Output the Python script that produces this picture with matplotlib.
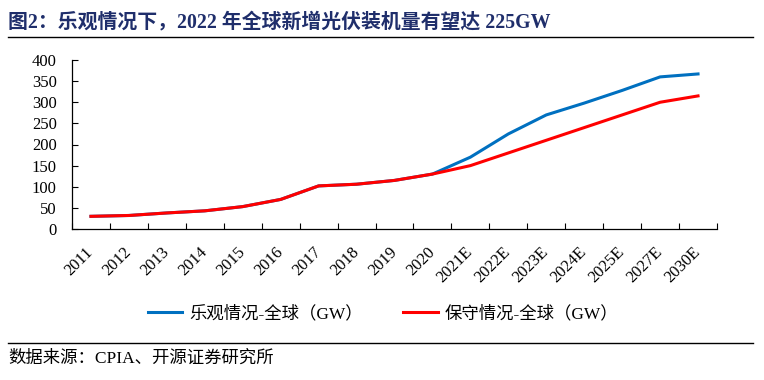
import numpy as np
import matplotlib
matplotlib.use("Agg")
import matplotlib.pyplot as plt

plt.rcParams['font.family'] = ['Liberation Serif', 'Noto Sans CJK SC']

years = ['2011', '2012', '2013', '2014', '2015', '2016', '2017', '2018', '2019',
         '2020', '2021E', '2022E', '2023E', '2024E', '2025E', '2027E', '2030E']
optimistic = [30, 32, 38, 43, 53, 70, 102, 106, 115, 130, 170, 225, 270, 298, 328, 360, 367]
conservative = [30, 32, 38, 43, 53, 70, 102, 106, 115, 130, 150, 180, 210, 240, 270, 300, 315]

title = '图2：乐观情况下，2022 年全球新增光伏装机量有望达 225GW'
source = '数据来源：CPIA、开源证券研究所'

fig = plt.figure(figsize=(7.64, 3.80), dpi=100)
ax = fig.add_axes([72/764, 1-229/380, 645/764, 169/380])

x = np.arange(len(years))
ax.plot(x, optimistic, color='#0070C0', lw=2.2, label='乐观情况-全球（GW）')
ax.plot(x, conservative, color='#FF0000', lw=2.2, label='保守情况-全球（GW）')

ax.set_xlim(-0.5, len(years) - 0.5)
ax.set_ylim(0, 400)
ax.set_yticks(range(0, 401, 50))
ax.set_xticks(x)
ax.set_xticklabels(years, rotation=45, ha='right', va='center', rotation_mode='anchor')
ax.set_xticks(np.arange(-0.5, len(years), 1), minor=True)
ax.tick_params(axis='x', which='major', length=0, pad=15, labelsize=12)
ax.tick_params(axis='x', which='minor', direction='in', length=4, width=0.8)
ax.tick_params(axis='y', direction='in', length=4, width=0.8, labelsize=12, pad=11)
for s in ['top', 'right']:
    ax.spines[s].set_visible(False)
for s in ['left', 'bottom']:
    ax.spines[s].set_linewidth(0.9)

ax.legend(loc='center', bbox_to_anchor=(383/764, 1-314/380), bbox_transform=fig.transFigure,
          ncol=2, frameon=False, fontsize=12.5, handlelength=2.0, columnspacing=2.3,
          handletextpad=0.4)

fig.text(8/764, 1-22/380, title, fontsize=14.3, fontweight='bold', color='#1F2E6B',
         va='center', ha='left')
fig.add_artist(plt.Line2D([8/764, 753/764], [1-37/380, 1-37/380], color='black', lw=1.0))
fig.add_artist(plt.Line2D([8/764, 753/764], [1-343/380, 1-343/380], color='black', lw=1.0))
fig.text(8/764, 1-359/380, source, fontsize=12.5, va='center', ha='left')

fig.savefig('out.png', dpi=100)
